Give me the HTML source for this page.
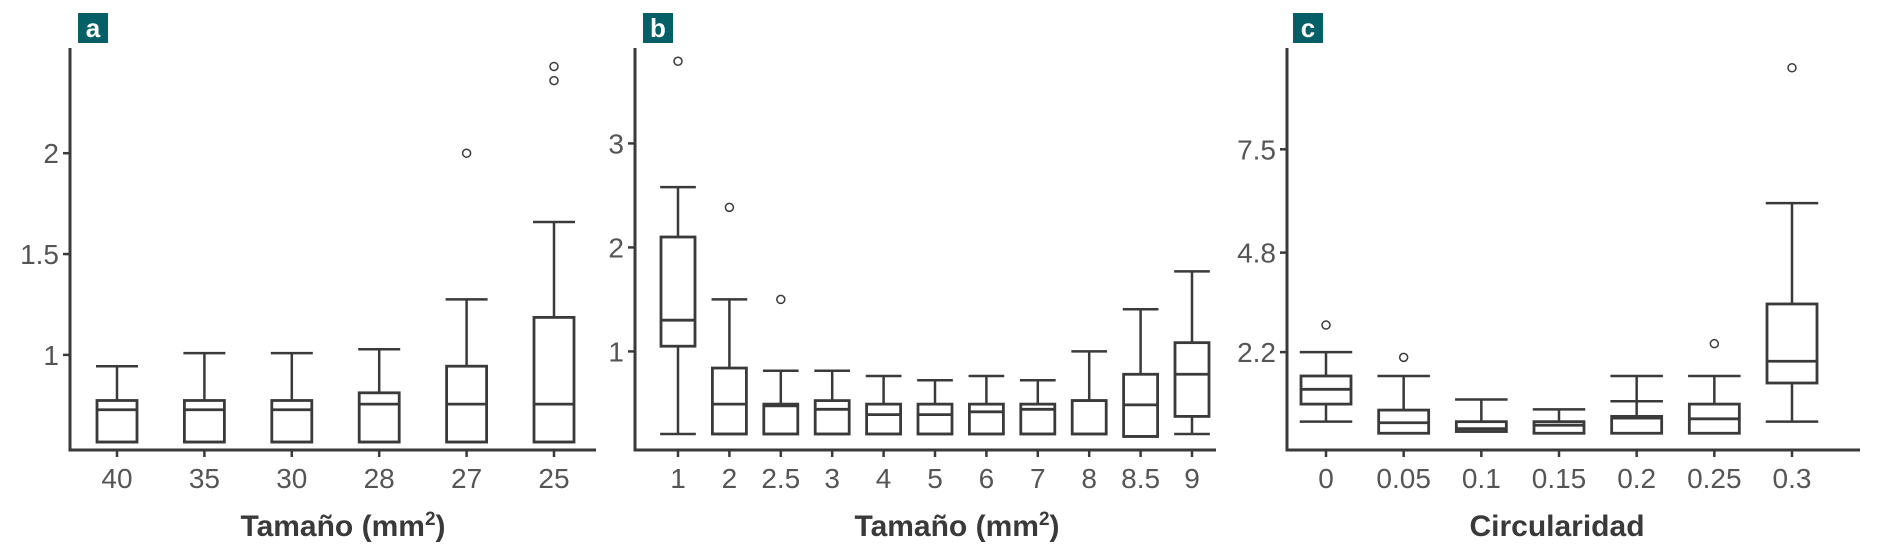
<!DOCTYPE html>
<html><head><meta charset="utf-8"><style>
html,body{margin:0;padding:0;background:#fff}
svg text{font-family:"Liberation Sans",sans-serif}
</style></head><body>
<svg id="chart" width="1888" height="551" viewBox="0 0 1888 551" xmlns="http://www.w3.org/2000/svg"></svg>
<script>
// Panel a
const catsA = ["40","35","30","28","27","25"];
const lowA  = [0.568,0.568,0.568,0.568,0.568,0.568];
const q1A   = [0.568,0.568,0.568,0.568,0.568,0.568];
const medA  = [0.728,0.728,0.728,0.756,0.756,0.756];
const q3A   = [0.774,0.774,0.774,0.812,0.944,1.186];
const upA   = [0.944,1.009,1.009,1.028,1.275,1.659];
const outA  = [[],[],[],[],[2.0],[2.36,2.43]];
const ticksA = [1,1.5,2];
const tickLabA = ["1","1.5","2"];
// Panel b
const catsB = ["1","2","2.5","3","4","5","6","7","8","8.5","9"];
const lowB  = [0.206,0.206,0.206,0.206,0.206,0.206,0.206,0.206,0.206,0.182,0.206];
const q1B   = [1.05,0.206,0.206,0.206,0.206,0.206,0.206,0.206,0.206,0.182,0.375];
const medB  = [1.30,0.493,0.476,0.443,0.392,0.392,0.419,0.443,0.527,0.486,0.78];
const q3B   = [2.10,0.84,0.493,0.527,0.493,0.493,0.493,0.493,0.527,0.78,1.084];
const upB   = [2.58,1.5,0.814,0.814,0.764,0.723,0.764,0.723,1.0,1.405,1.77];
const outB  = [[3.79],[2.385],[1.5],[],[],[],[],[],[],[],[]];
const ticksB = [1,2,3];
const tickLabB = ["1","2","3"];
// Panel c
const catsC = ["0","0.05","0.1","0.15","0.2","0.25","0.3"];
const lowC  = [0.382,0.079,0.125,0.079,0.079,0.079,0.382];
const q1C   = [0.841,0.079,0.125,0.079,0.079,0.079,1.392];
const medC  = [1.227,0.354,0.2,0.29,0.474,0.456,1.961];
const q3C   = [1.576,0.685,0.382,0.382,0.52,0.841,3.458];
const upC   = [2.2,1.576,0.96,0.703,1.576,1.576,6.093];
const outC  = [[2.907],[2.062],[],[],[],[2.42],[9.63]];
const extraC = [null,null,null,null,0.914,null,null];
const ticksC = [2.2,4.8,7.5];
const tickLabC = ["2.2","4.8","7.5"];

const NS="http://www.w3.org/2000/svg";
const svg=document.getElementById('chart');
const C="#3a3a3a";
function mk(tag,attrs,parent){const e=document.createElementNS(NS,tag);for(const k in attrs)e.setAttribute(k,attrs[k]);(parent||svg).appendChild(e);return e;}

function panel(cfg){
  const g=mk('g',{});
  
  
  const y=v=>cfg.p0+(v-cfg.v0)*(cfg.p1-cfg.p0)/(cfg.v1-cfg.v0);
  const n=cfg.cats.length;
  const x=i=>cfg.xs0+i*(cfg.xs1-cfg.xs0)/(n-1);
  // label box
  const lb=mk('rect',{x:cfg.lbx,y:13,width:30,height:30,fill:"#055f66"},g);
  
  
  const lt=mk('text',{x:cfg.lbx+15,y:37,'text-anchor':'middle','font-size':26,'font-weight':'bold',fill:'#fff'},g);
  lt.textContent=cfg.id;
  
  
  // axes
  const ya=mk('line',{x1:cfg.ax,y1:48,x2:cfg.ax,y2:451.5,stroke:C,'stroke-width':3},g);
  
  
  const xa=mk('line',{x1:cfg.ax-1.5,y1:450,x2:cfg.axEnd,y2:450,stroke:C,'stroke-width':3},g);
  
  
  cfg.ticks.forEach((t,i)=>{
    const yy=y(t);
    mk('line',{x1:cfg.ax-7,y1:yy,x2:cfg.ax,y2:yy,stroke:C,'stroke-width':2.5},g);
    const tx=mk('text',{x:cfg.ax-11,y:yy+10,'text-anchor':'end','font-size':28,fill:'#555'},g);
    tx.textContent=cfg.tickLab[i];
    
    
  });
  const bw=cfg.bw, cw=cfg.bw*1.05;
  cfg.cats.forEach((c,i)=>{
    const cx=x(i);
    mk('line',{x1:cx,y1:450,x2:cx,y2:457,stroke:C,'stroke-width':2.5},g);
    const tx=mk('text',{x:cx,y:488,'text-anchor':'middle','font-size':28,fill:'#555'},g);
    tx.textContent=c;
    
    
    const bg=mk('g',{},g);
    
    
    mk('line',{x1:cx,y1:y(cfg.up[i]),x2:cx,y2:y(cfg.q3[i]),stroke:C,'stroke-width':2.5},bg);
    mk('line',{x1:cx,y1:y(cfg.low[i]),x2:cx,y2:y(cfg.q1[i]),stroke:C,'stroke-width':2.5},bg);
    mk('line',{x1:cx-cw/2,y1:y(cfg.up[i]),x2:cx+cw/2,y2:y(cfg.up[i]),stroke:C,'stroke-width':2.5},bg);
    mk('line',{x1:cx-cw/2,y1:y(cfg.low[i]),x2:cx+cw/2,y2:y(cfg.low[i]),stroke:C,'stroke-width':2.5},bg);
    mk('rect',{x:cx-bw/2,y:y(cfg.q3[i]),width:bw,height:Math.max(0.5,y(cfg.q1[i])-y(cfg.q3[i])),fill:'none',stroke:C,'stroke-width':2.8},bg);
    mk('line',{x1:cx-bw/2-1,y1:y(cfg.med[i]),x2:cx+bw/2+1,y2:y(cfg.med[i]),stroke:C,'stroke-width':2.8},bg);
    if(cfg.extra&&cfg.extra[i]!=null) mk('line',{x1:cx-cw/2,y1:y(cfg.extra[i]),x2:cx+cw/2,y2:y(cfg.extra[i]),stroke:C,'stroke-width':2.5},bg);
    cfg.out[i].forEach(o=>{
      const oc=mk('circle',{cx:cx,cy:y(o),r:4,fill:'none',stroke:C,'stroke-width':1.5},bg);
      
      
    });
  });
  const tt=mk('text',{x:cfg.titleX,y:536,'text-anchor':'middle','font-size':30,'font-weight':'bold',fill:C},g);
  tt.innerHTML=cfg.title;
  
  
}
const T='Tamaño (mm<tspan font-size="19" dy="-11">2</tspan><tspan dy="11">)</tspan>';
panel({id:'a',cats:catsA,low:lowA,q1:q1A,med:medA,q3:q3A,up:upA,out:outA,ticks:ticksA,tickLab:tickLabA,
  v0:1,p0:354.9,v1:2,p1:153.2,xs0:117,xs1:554,bw:40,ax:70,axEnd:596,lbx:78,titleX:343,title:T});
panel({id:'b',cats:catsB,low:lowB,q1:q1B,med:medB,q3:q3B,up:upB,out:outB,ticks:ticksB,tickLab:tickLabB,
  v0:1,p0:351.4,v1:3,p1:143.4,xs0:678,xs1:1192,bw:34,ax:635,axEnd:1216,lbx:643,titleX:957,title:T});
panel({id:'c',cats:catsC,low:lowC,q1:q1C,med:medC,q3:q3C,up:upC,out:outC,extra:extraC,ticks:ticksC,tickLab:tickLabC,
  v0:2.2,p0:352.1,v1:7.5,p1:149.3,xs0:1326,xs1:1792,bw:50,ax:1287,axEnd:1860,lbx:1293,titleX:1557,title:'Circularidad'});
</script>
</body></html>
